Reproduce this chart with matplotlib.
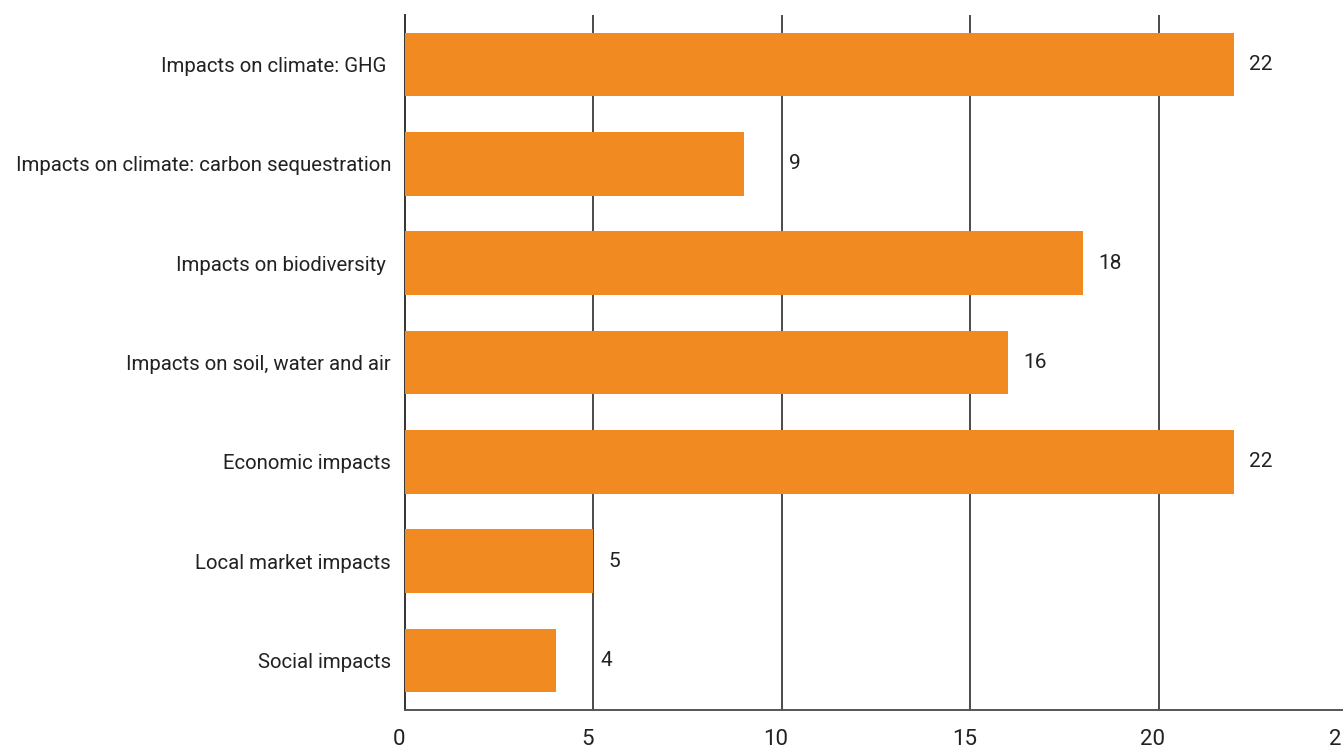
import matplotlib
matplotlib.use("Agg")
import matplotlib.pyplot as plt
import matplotlib.transforms as mtransforms

categories = [
    "Impacts on climate: GHG ",
    "Impacts on climate: carbon sequestration",
    "Impacts on biodiversity ",
    "Impacts on soil, water and air",
    "Economic impacts",
    "Local market impacts",
    "Social impacts",
]
values = [22, 9, 18, 16, 22, 5, 4]
x_ticks = [0, 5, 10, 15, 20, 25]

bar_color = "#F28A22"
line_color = "#4a4a4a"
text_color = "#222222"

plt.rcParams["font.family"] = ["Roboto", "DejaVu Sans"]

fig = plt.figure(figsize=(13.43, 7.51), dpi=100)
ax = fig.add_axes([405 / 1343, 1 - 710 / 751, 942 / 1343, 695 / 751])

y = list(range(len(categories)))
ax.barh(y, values, height=0.64, color=bar_color, zorder=3)

# vertical grid lines
for t in x_ticks[1:-1]:
    ax.axvline(t, color=line_color, lw=1.4, zorder=2)

ax.set_xlim(0, 25)
ax.set_ylim(len(categories) - 0.5, -0.5)

ax.set_yticks(y)
ax.set_yticklabels(categories, fontsize=14.7, color=text_color)
ax.set_xticks(x_ticks)
ax.set_xticklabels([str(t) for t in x_ticks], fontsize=16, color=text_color)
ax.tick_params(axis="y", length=0, pad=10)
ax.tick_params(axis="x", length=0, pad=14)
shift = mtransforms.ScaledTranslation(-6 / 100, 0, fig.dpi_scale_trans)
for lab in ax.get_xticklabels():
    lab.set_transform(lab.get_transform() + shift)

for s in ["top", "right"]:
    ax.spines[s].set_visible(False)
ax.spines["left"].set_color("#333333")
ax.spines["left"].set_linewidth(1.4)
ax.spines["bottom"].set_color("#555555")
ax.spines["bottom"].set_linewidth(1.4)

# value labels, pushed past a grid line when one is close
for yi, v in zip(y, values):
    xpos = v + 0.4
    for t in x_ticks[1:-1]:
        if v < t <= v + 1:
            xpos = t + 0.2
    ax.text(xpos, yi, str(v), va="center", ha="left", fontsize=15, color=text_color)

fig.savefig("out.png", dpi=100)
